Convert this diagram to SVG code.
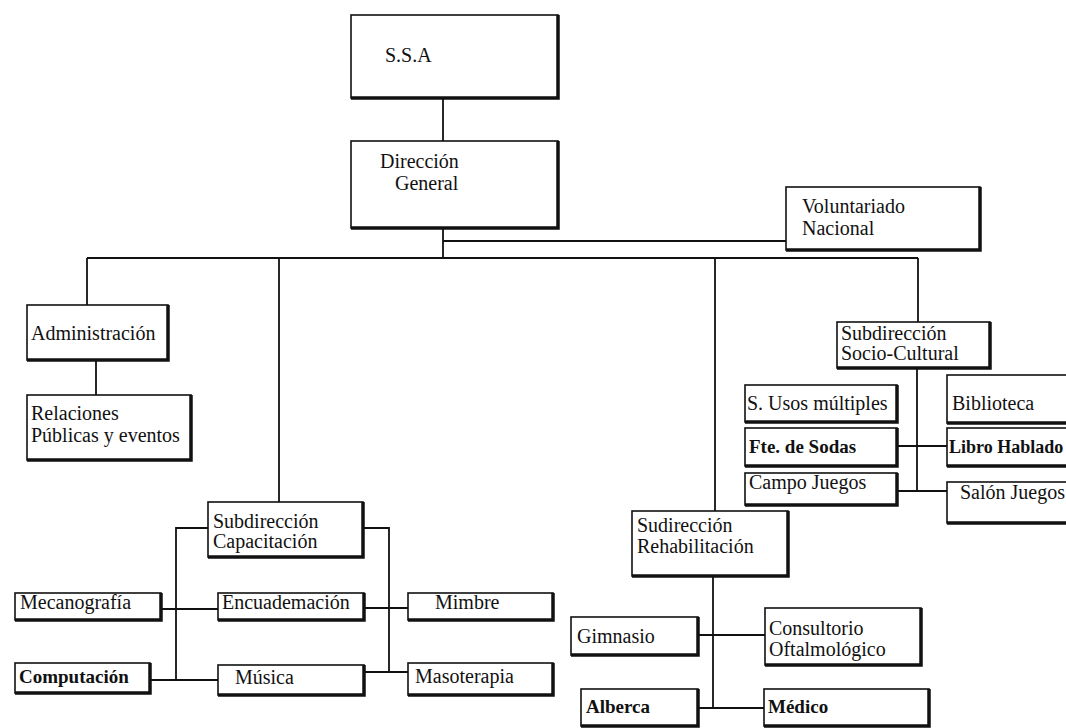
<svg xmlns="http://www.w3.org/2000/svg" width="1066" height="728" viewBox="0 0 1066 728">
<style>
.box{fill:#fff;stroke:#111;stroke-width:1.6}
.sh{fill:none;stroke:#111;stroke-width:3.5}
text{font-family:'Liberation Serif','DejaVu Serif','Times New Roman',serif;font-size:20px;fill:#111}
.b{font-weight:bold}
.c{fill:none;stroke:#111;stroke-width:1.8}
</style>
<rect width="1066" height="728" fill="#fff"/>
<g id="connectors">
<path class="c" d="M443 98V141M443 228V258M443 241H786M87 258H918M87 258V305M96 360V395M279 258V502M715 258V511M918 258V322M917 368V491M897 446H947M897 491H947M208 528H176V680M363 528H389V672M161 609H218M364 608H408M150 680H218M364 672H408M713 576V708M698 635H765M698 708H764"/>
</g>
<g id="ssa"><rect class="box" x="351" y="15" width="207" height="83"/><path class="sh" d="M558 15V98H351"/><text x="385" y="62">S.S.A</text></g>
<g id="direccion-general"><rect class="box" x="351" y="141" width="207" height="87"/><path class="sh" d="M558 141V228H351"/><text x="380" y="168">Dirección</text><text x="395" y="190">General</text></g>
<g id="voluntariado"><rect class="box" x="786" y="187" width="194" height="63"/><path class="sh" d="M980 187V250H786"/><text x="802" y="213">Voluntariado</text><text x="802" y="235">Nacional</text></g>
<g id="administracion"><rect class="box" x="27" y="305" width="141" height="55"/><path class="sh" d="M168 305V360H27"/><text x="31" y="340">Administración</text></g>
<g id="relaciones"><rect class="box" x="27" y="395" width="164" height="65"/><path class="sh" d="M191 395V460H27"/><text x="31" y="420">Relaciones</text><text x="31" y="442">Públicas y eventos</text></g>
<g id="capacitacion"><rect class="box" x="208" y="502" width="155" height="55"/><path class="sh" d="M363 502V557H208"/><text x="213" y="528">Subdirección</text><text x="213" y="548">Capacitación</text></g>
<g id="socio-cultural"><rect class="box" x="837" y="322" width="153" height="46"/><path class="sh" d="M990 322V368H837"/><text x="841" y="340">Subdirección</text><text x="841" y="360">Socio-Cultural</text></g>
<g id="usos-multiples"><rect class="box" x="745" y="385" width="152" height="37"/><path class="sh" d="M897 385V422H745"/><text x="747" y="410">S. Usos múltiples</text></g>
<g id="fte-sodas"><rect class="box" x="745" y="428" width="152" height="38"/><path class="sh" d="M897 428V466H745"/><text class="b" x="749" y="453" style="font-size:19px">Fte. de Sodas</text></g>
<g id="campo-juegos"><rect class="box" x="745" y="473" width="152" height="32"/><path class="sh" d="M897 473V505H745"/><text x="749" y="489">Campo Juegos</text></g>
<g id="biblioteca"><rect class="box" x="947" y="375" width="130" height="48"/><path class="sh" d="M1077 375V423H947"/><text x="952" y="410">Biblioteca</text></g>
<g id="libro-hablado"><rect class="box" x="947" y="428" width="130" height="38"/><path class="sh" d="M1077 428V466H947"/><text class="b" x="949" y="453" style="font-size:18px">Libro Hablado</text></g>
<g id="salon-juegos"><rect class="box" x="947" y="482" width="130" height="41"/><path class="sh" d="M1077 482V523H947"/><text x="960" y="499">Salón Juegos</text></g>
<g id="rehabilitacion"><rect class="box" x="632" y="511" width="156" height="65"/><path class="sh" d="M788 511V576H632"/><text x="637" y="532">Sudirección</text><text x="637" y="553">Rehabilitación</text></g>
<g id="mecanografia"><rect class="box" x="15" y="593" width="146" height="27"/><path class="sh" d="M161 593V620H15"/><text x="20" y="609">Mecanografía</text></g>
<g id="encuadernacion"><rect class="box" x="218" y="593" width="146" height="27"/><path class="sh" d="M364 593V620H218"/><text x="222" y="609">Encuademación</text></g>
<g id="mimbre"><rect class="box" x="408" y="593" width="145" height="27"/><path class="sh" d="M553 593V620H408"/><text x="435" y="609">Mimbre</text></g>
<g id="computacion"><rect class="box" x="15" y="663" width="135" height="30"/><path class="sh" d="M150 663V693H15"/><text class="b" x="19" y="683" style="font-size:19px">Computación</text></g>
<g id="musica"><rect class="box" x="218" y="665" width="146" height="30"/><path class="sh" d="M364 665V695H218"/><text x="235" y="684">Música</text></g>
<g id="masoterapia"><rect class="box" x="408" y="663" width="145" height="32"/><path class="sh" d="M553 663V695H408"/><text x="415" y="683">Masoterapia</text></g>
<g id="gimnasio"><rect class="box" x="571" y="617" width="127" height="38"/><path class="sh" d="M698 617V655H571"/><text x="577" y="643">Gimnasio</text></g>
<g id="consultorio"><rect class="box" x="765" y="608" width="156" height="57"/><path class="sh" d="M921 608V665H765"/><text x="769" y="635">Consultorio</text><text x="769" y="656">Oftalmológico</text></g>
<g id="alberca"><rect class="box" x="581" y="689" width="117" height="37"/><path class="sh" d="M698 689V726H581"/><text class="b" x="586" y="713" style="font-size:19px">Alberca</text></g>
<g id="medico"><rect class="box" x="764" y="689" width="165" height="37"/><path class="sh" d="M929 689V726H764"/><text class="b" x="768" y="713" style="font-size:19px">Médico</text></g>
</svg>
